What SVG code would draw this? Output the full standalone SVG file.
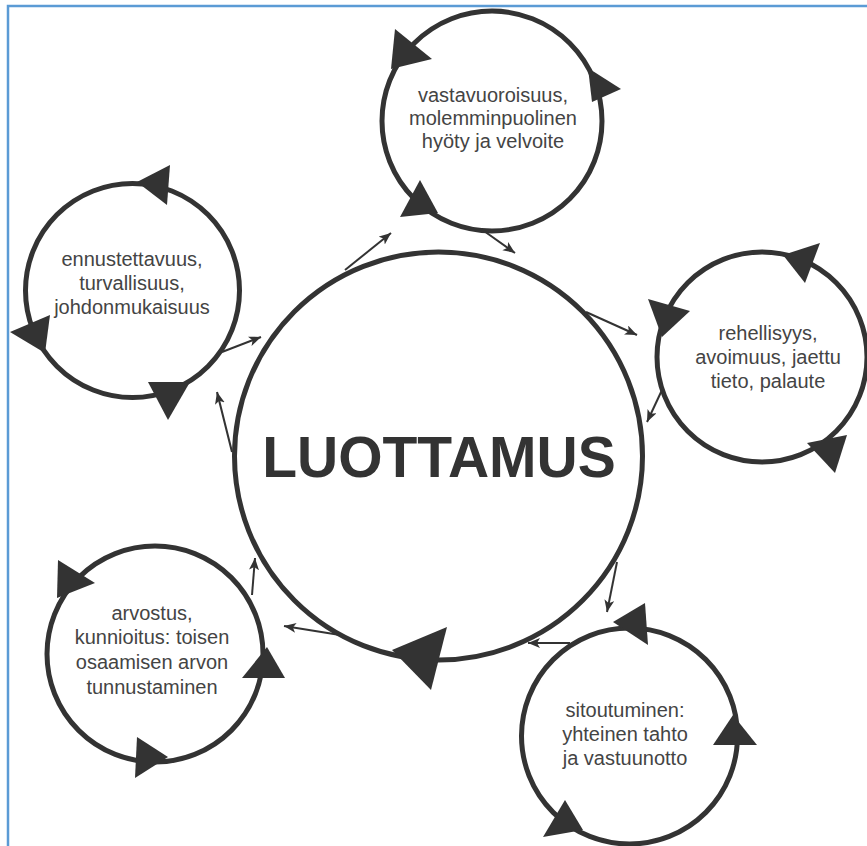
<svg xmlns="http://www.w3.org/2000/svg" width="867" height="846" viewBox="0 0 867 846">
<style>
.ring{fill:#fff;stroke:#333;stroke-width:5}
.head{fill:#333}
.lbl{font-family:"Liberation Sans",Arial,sans-serif;font-size:20px;fill:#444;text-anchor:middle}
.main{font-family:"Liberation Sans",Arial,sans-serif;font-size:57px;font-weight:bold;fill:#333;text-anchor:middle}
.conn{stroke:#333;stroke-width:2;fill:none;marker-end:url(#ah)}
.frame{stroke:#5b9bd5;stroke-width:2.5;fill:none}
</style>
<defs>
<marker id="ah" markerUnits="userSpaceOnUse" markerWidth="13" markerHeight="11" refX="12" refY="5" orient="auto">
<path d="M0,0 L12,5 L0,10 L3,5 z" fill="#333"/>
</marker>
</defs>
<rect width="867" height="846" fill="#fff"/>
<path class="frame" d="M8,846 V6 H867"/>

<g id="luottamus">
<circle class="ring" cx="438.5" cy="456" r="204"/>
<polygon class="head" points="392,650 447,627 431,690"/>
<text class="main" x="439" y="477">LUOTTAMUS</text>
</g>

<g id="vastavuoroisuus">
<circle class="ring" cx="492" cy="121" r="110"/>
<polygon class="head" points="395,29 432,59 391,69"/>
<polygon class="head" points="588,68 621,89 592,102"/>
<polygon class="head" points="420,180 400,217 438,213"/>
<text class="lbl" x="493" y="102">vastavuoroisuus,</text>
<text class="lbl" x="493" y="125">molemminpuolinen</text>
<text class="lbl" x="493" y="148">hyöty ja velvoite</text>
</g>

<g id="ennustettavuus">
<circle class="ring" cx="132.5" cy="290.5" r="107"/>
<polygon class="head" points="170,165 137,182 167,205"/>
<polygon class="head" points="50,315 10,332 45,353"/>
<polygon class="head" points="148,382 190,382 168,420"/>
<text class="lbl" x="132" y="266">ennustettavuus,</text>
<text class="lbl" x="132" y="290">turvallisuus,</text>
<text class="lbl" x="132" y="314">johdonmukaisuus</text>
</g>

<g id="rehellisyys">
<circle class="ring" cx="762" cy="357" r="105"/>
<polygon class="head" points="783,255 820,243 805,283"/>
<polygon class="head" points="648,299 690,311 662,337"/>
<polygon class="head" points="807,443 847,435 835,473"/>
<text class="lbl" x="768" y="340">rehellisyys,</text>
<text class="lbl" x="768" y="364">avoimuus, jaettu</text>
<text class="lbl" x="768" y="388">tieto, palaute</text>
</g>

<g id="sitoutuminen">
<circle class="ring" cx="629.5" cy="736" r="108"/>
<polygon class="head" points="613,622 645,603 648,645"/>
<polygon class="head" points="713,745 757,745 733,715"/>
<polygon class="head" points="565,800 543,837 583,830"/>
<text class="lbl" x="625" y="717">sitoutuminen:</text>
<text class="lbl" x="625" y="741">yhteinen tahto</text>
<text class="lbl" x="625" y="765">ja vastuunotto</text>
</g>

<g id="arvostus">
<circle class="ring" cx="155" cy="654" r="108"/>
<polygon class="head" points="58,560 95,583 57,598"/>
<polygon class="head" points="242,678 285,678 267,647"/>
<polygon class="head" points="137,737 168,757 135,778"/>
<text class="lbl" x="152" y="620">arvostus,</text>
<text class="lbl" x="152" y="644">kunnioitus: toisen</text>
<text class="lbl" x="152" y="669">osaamisen arvon</text>
<text class="lbl" x="152" y="694">tunnustaminen</text>
</g>

<g id="connectors">
<line class="conn" x1="484" y1="231" x2="515" y2="253"/>
<line class="conn" x1="345" y1="270" x2="391" y2="233"/>
<line class="conn" x1="586" y1="312" x2="637" y2="335"/>
<line class="conn" x1="662" y1="390" x2="647" y2="422"/>
<line class="conn" x1="617" y1="562" x2="607" y2="612"/>
<line class="conn" x1="570" y1="643" x2="528" y2="643"/>
<line class="conn" x1="340" y1="635" x2="284" y2="626"/>
<line class="conn" x1="252" y1="595" x2="255" y2="558"/>
<line class="conn" x1="232" y1="452" x2="217" y2="392"/>
<line class="conn" x1="222" y1="352" x2="261" y2="337"/>
</g>
</svg>
